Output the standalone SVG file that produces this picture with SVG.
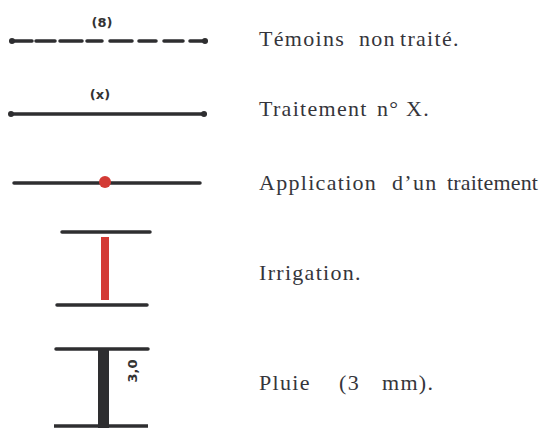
<svg xmlns="http://www.w3.org/2000/svg" width="544" height="428" viewBox="0 0 544 428">
<style>
.lbl{font-family:"Liberation Serif","Times New Roman",serif;font-size:22px;fill:#35353b;letter-spacing:1.3px}
.tag{font-family:"DejaVu Sans","Liberation Sans",sans-serif;font-size:13px;font-weight:bold;fill:#333}
.ln{stroke:#2e2e30;stroke-width:3.5;stroke-linecap:round;fill:none}
.dot{fill:#2e2e30}
</style>
<rect width="544" height="428" fill="#ffffff"/>
<g id="temoins">
<text class="tag" x="102" y="27" text-anchor="middle">(8)</text>
<path class="ln" d="M11 41H32M36 41H55M60 41H82M87 41H102M110 41H132M139 41H156M164 41H183M190 41H206"/>
<circle class="dot" cx="12" cy="41" r="3"/>
<circle class="dot" cx="205" cy="41" r="3"/>
<text class="lbl" y="46"><tspan x="259">Témoins</tspan><tspan x="359">non</tspan><tspan x="400">traité.</tspan></text>
</g>
<g id="traitement">
<text class="tag" x="100" y="99" text-anchor="middle">(x)</text>
<line class="ln" x1="11" y1="114" x2="205" y2="114"/>
<circle class="dot" cx="11" cy="114" r="3"/>
<circle class="dot" cx="204" cy="114" r="3"/>
<text class="lbl" y="116"><tspan x="259">Traitement</tspan><tspan x="377">n°</tspan><tspan x="406">X.</tspan></text>
</g>
<g id="application">
<line class="ln" x1="14" y1="183" x2="200" y2="183"/>
<circle cx="105" cy="182" r="6" fill="#d33a35"/>
<text class="lbl" y="190"><tspan x="259">Application</tspan><tspan x="392">d’un</tspan><tspan x="447" style="letter-spacing:0.2px">traitement</tspan></text>
</g>
<g id="irrigation">
<line class="ln" x1="62" y1="232" x2="150" y2="232"/>
<rect x="101" y="237" width="8" height="63" fill="#d33a35"/>
<line class="ln" x1="57" y1="305" x2="147" y2="305"/>
<text class="lbl" y="280"><tspan x="259">Irrigation.</tspan></text>
</g>
<g id="pluie">
<line class="ln" x1="56" y1="349" x2="148" y2="349"/>
<rect x="98" y="349" width="11" height="79" fill="#2e2e30"/>
<line class="ln" x1="54" y1="426" x2="148" y2="426" style="stroke-linecap:butt"/>
<text class="tag" x="0" y="0" text-anchor="middle" transform="translate(137 371) rotate(-90)">3,0</text>
<text class="lbl" y="390"><tspan x="259">Pluie</tspan><tspan x="339">(3</tspan><tspan x="382">mm).</tspan></text>
</g>
</svg>
